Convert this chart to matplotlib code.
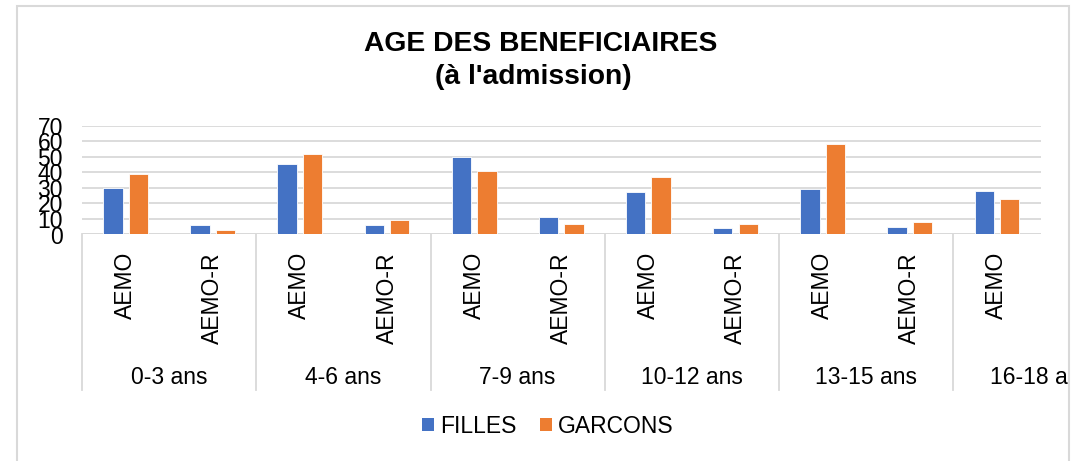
import matplotlib
matplotlib.use("Agg")
import matplotlib.pyplot as plt
from matplotlib.patches import Rectangle, Patch
from matplotlib.transforms import Bbox
import numpy as np

plt.rcParams['font.family'] = ['Liberation Sans', 'DejaVu Sans']

groups = ['0-3 ans', '4-6 ans', '7-9 ans', '10-12 ans', '13-15 ans', '16-18 ans']
categories = ['AEMO', 'AEMO-R', 'AEMO', 'AEMO-R', 'AEMO', 'AEMO-R',
              'AEMO', 'AEMO-R', 'AEMO', 'AEMO-R', 'AEMO']
group_of_cat = [0, 0, 1, 1, 2, 2, 3, 3, 4, 4, 5]
filles = [30, 6, 45, 6, 50, 11, 27, 4, 29, 5, 28]
garcons = [39, 3, 52, 9, 41, 7, 37, 7, 58, 8, 23]
yticks = [0, 10, 20, 30, 40, 50, 60, 70]

W, H = 1073, 461
fig = plt.figure(figsize=(W / 100, H / 100), dpi=100)

# chart frame (bottom edge lies below the picture)
fig.patches.append(Rectangle((17 / W, -20 / H), (1069 - 17) / W, (H - 6 + 20) / H,
                             transform=fig.transFigure, fill=False,
                             edgecolor='#d9d9d9', lw=1.5, clip_on=False))

ax_left, ax_right = 82, 1040.5
ax_top, ax_bot = 125.5, 234.5
ax = fig.add_axes([ax_left / W, (H - ax_bot) / H, (ax_right - ax_left) / W, (ax_bot - ax_top) / H])

x = np.arange(len(categories))
bw = 0.222
off = 0.146
ax.bar(x - off, filles, width=bw, color='#4472C4', edgecolor='white', linewidth=0.6, zorder=3, label='FILLES')
ax.bar(x + off, garcons, width=bw, color='#ED7D31', edgecolor='white', linewidth=0.6, zorder=3, label='GARCONS')

ax.set_xlim(-0.5, len(categories) - 0.5)
ax.set_ylim(0, 70)
ax.set_yticks(yticks)
ax.set_yticklabels([str(v) for v in yticks], fontsize=16.5)
ax.yaxis.grid(True, color='#d9d9d9', lw=1.3, zorder=0)
ax.set_axisbelow(True)
for s in ax.spines.values():
    s.set_visible(False)
ax.tick_params(axis='y', length=0, pad=13.7)
ax.set_xticks(x)
ax.set_xticklabels(categories, rotation=90, fontsize=16.5)
ax.tick_params(axis='x', length=0, pad=12.6)
ax.axhline(0, color='#d9d9d9', lw=1.3, zorder=1)

# group separators and labels
sep_len = (390 - ax_bot) / (ax_bot - ax_top)
bounds = []
for g in range(len(groups)):
    idx = [i for i, gg in enumerate(group_of_cat) if gg == g]
    bounds.append(min(idx) - 0.5)
for b in bounds:
    ax.plot([b, b], [0, -sep_len], transform=ax.get_xaxis_transform(),
            color='#d9d9d9', lw=1.3, clip_on=False)

clipbox = Bbox([[0, 0], [1068, H]])
for g, name in enumerate(groups):
    centre = bounds[g] + 1.0
    t = ax.annotate(name, xy=(centre, 0), xycoords=('data', 'axes fraction'),
                    xytext=(0, -(377 - ax_bot) * 0.72), textcoords='offset points',
                    ha='center', va='center', fontsize=16.5, annotation_clip=False)
    t.set_clip_on(True)
    t.set_clip_box(clipbox)

# title
fig.text(541 / W, 1 - 44 / H, 'AGE DES BENEFICIAIRES', ha='center', va='center',
         fontsize=20.3, fontweight='bold')
fig.text(533 / W, 1 - 77 / H, "(à l'admission)", ha='center', va='center',
         fontsize=20.3, fontweight='bold')

# legend
handles = [Patch(facecolor='#4472C4', edgecolor='none', label='FILLES'),
           Patch(facecolor='#ED7D31', edgecolor='none', label='GARCONS')]
fig.legend(handles=handles, loc='center', bbox_to_anchor=(548 / W, 1 - 426 / H),
           ncol=2, frameon=False, fontsize=16.5, handlelength=0.52, handleheight=0.52,
           handletextpad=0.26, columnspacing=1.04, borderaxespad=0, borderpad=0)

fig.savefig('out.png', dpi=100)
